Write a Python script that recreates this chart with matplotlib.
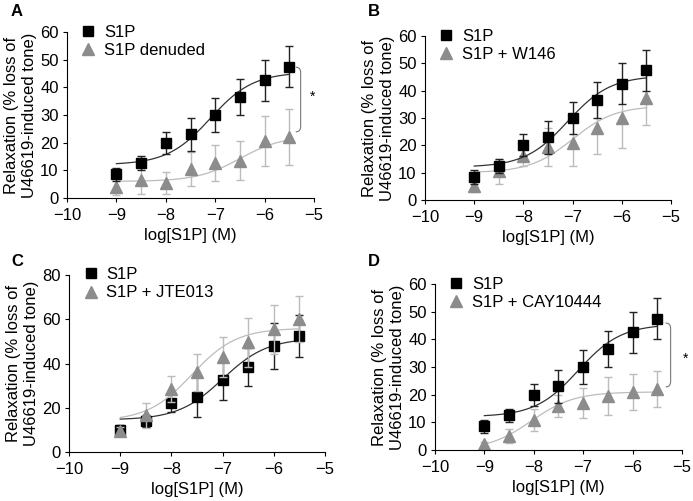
import matplotlib.pyplot as plt
import numpy as np
from matplotlib.path import Path
from matplotlib.patches import PathPatch

plt.rcParams['font.family'] = ['Liberation Sans', 'DejaVu Sans']

logc = [-9, -8.5, -8, -7.5, -7, -6.5, -6, -5.5]

# S1P control (panels A, B, D)
s1p = [8.5, 12.5, 20, 23, 30, 36.5, 42.5, 47.5]
s1p_err = [2.5, 2.5, 4, 6, 6, 6.5, 7.5, 7.5]
s1p_fit = (12, 45.5, -7.1, 1.0)  # bottom, top, logEC50, hill

# A: denuded
den = [4, 6.5, 5.5, 10.5, 12.5, 13.5, 20.5, 22]
den_err = [3, 5, 4, 6, 6.5, 7, 9, 10]
den_fit = (6, 22.5, -6.5, 1.0)

# B: W146
w146 = [5, 10.5, 16, 19.5, 21, 26.5, 30, 37.5]
w146_err = [2, 4.5, 3.5, 7, 8.5, 9.5, 11, 10]
w146_fit = (10, 34.5, -7.0, 1.0)

# C: JTE013 experiment
c_s1p = [10, 14, 22, 25, 32.5, 38.5, 48, 52.5]
c_s1p_err = [2, 2.5, 4, 9, 9, 8.5, 10.5, 9.5]
c_s1p_fit = (14.5, 51.5, -7.0, 1.0)
jte = [9.5, 16.5, 28.5, 36, 43, 49.5, 55.5, 60]
jte_err = [2, 5.5, 6, 8.5, 9, 11, 11, 10.5]
jte_fit = (14, 56, -7.6, 1.0)

# D: CAY10444
cay = [2, 5, 11, 16, 17, 19.5, 21, 22]
cay_err = [1, 2.5, 4, 4, 5.5, 7, 6.5, 6.5]
cay_fit = (0, 21, -8.05, 1.0)

# significance brackets: (x, y_top, y_bottom, star_x, star_y)
brk_A = (-5.37, 47.3, 23.9, -5.04, 36.5)
brk_D = (-5.33, 45.9, 22.8, -4.93, 33)

BLACK = '#000000'
GRAY = '#8c8c8c'
LGRAY = '#bcbcbc'


def sig(x, p):
    b, t, ec, h = p
    return b + (t - b) / (1 + 10 ** ((ec - x) * h))


W, H = 693, 501
fig = plt.figure(figsize=(6.93, 5.01), dpi=100)

panels = [
    ('A', (17, 11), [0.0967, 0.6048, 0.3564, 0.3313], 60, (s1p, s1p_err, s1p_fit, 'S1P'),
     (den, den_err, den_fit, 'S1P denuded'), brk_A),
    ('B', (374, 11), [0.6133, 0.6008, 0.355, 0.3273], 60, (s1p, s1p_err, s1p_fit, 'S1P'),
     (w146, w146_err, w146_fit, 'S1P + W146'), None),
    ('C', (17, 261), [0.0996, 0.0978, 0.3694, 0.3533], 80, (c_s1p, c_s1p_err, c_s1p_fit, 'S1P'),
     (jte, jte_err, jte_fit, 'S1P + JTE013'), None),
    ('D', (374, 261), [0.6277, 0.1018, 0.3564, 0.3313], 60, (s1p, s1p_err, s1p_fit, 'S1P'),
     (cay, cay_err, cay_fit, 'S1P + CAY10444'), brk_D),
]

xs = np.linspace(-9, -5.5, 200)

for letter, lpos, rect, ymax, black, gray, brk in panels:
    ax = fig.add_axes(rect)
    # in C the grey series sits on top of the black one
    zg = 5 if letter == 'C' else 2
    for (vals, err, fit, lab), col, ecol, lcol, mk, ms, z in [
            (gray, GRAY, LGRAY, LGRAY, '^', 8, zg),
            (black, BLACK, '#222222', '#333333', 's', 6.5, 3)]:
        ax.plot(xs, sig(xs, fit), color=lcol, lw=0.9, zorder=z)
        ax.errorbar(logc, vals, yerr=err, fmt='none', ecolor=ecol, elinewidth=1.0,
                    capsize=3, capthick=1.0, zorder=z + 0.1)
        ax.plot(logc, vals, mk, color=col, ms=ms, zorder=z + 0.2, label=lab)
    h, l = ax.get_legend_handles_labels()
    ax.legend(h[::-1], l[::-1], loc='upper left', bbox_to_anchor=(0.055, 1.045), frameon=False,
              fontsize=12, handlelength=0.9, handletextpad=0.5, borderaxespad=0,
              labelspacing=0.2, borderpad=0)
    ax.set_xlim(-10, -5)
    ax.set_ylim(0, ymax)
    ax.set_xticks([-10, -9, -8, -7, -6, -5])
    ax.set_xticklabels(['\u221210', '\u22129', '\u22128', '\u22127', '\u22126', '\u22125'])
    if ymax == 80:
        ax.set_yticks(range(0, 81, 20))
    else:
        ax.set_yticks(range(0, 61, 10))
    ax.spines['top'].set_visible(False)
    ax.spines['right'].set_visible(False)
    ax.tick_params(labelsize=12, length=3, width=0.8)
    ax.tick_params(axis='x', pad=4.5)
    ax.tick_params(axis='y', pad=3)
    ax.set_xlabel('log[S1P] (M)', fontsize=12, labelpad=3)
    ax.set_ylabel('Relaxation (% loss of\nU46619-induced tone)', fontsize=12,
                  labelpad=2, linespacing=1.25)
    fig.text(lpos[0] / W, 1 - lpos[1] / H, letter, fontsize=12, fontweight='bold',
             va='center', ha='center')
    if brk is not None:
        bx, yt, yb, sx, sy = brk
        w = 0.1
        r = 2.0
        verts = [(bx, yt), (bx + w, yt), (bx + w, yt - r), (bx + w, yb + r),
                 (bx + w, yb), (bx, yb)]
        codes = [Path.MOVETO, Path.CURVE3, Path.CURVE3, Path.LINETO, Path.CURVE3, Path.CURVE3]
        ax.add_patch(PathPatch(Path(verts, codes), fill=False, ec='#777777', lw=0.8,
                               clip_on=False))
        ax.text(sx, sy, '*', fontsize=10, ha='center', va='center')

fig.savefig('out.png', dpi=100)
